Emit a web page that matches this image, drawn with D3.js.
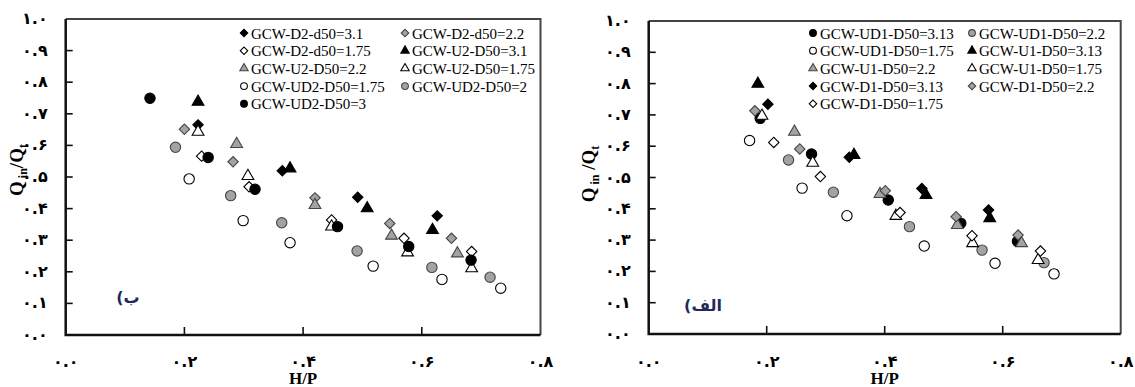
<!DOCTYPE html>
<html><head><meta charset="utf-8">
<script src="https://cdn.jsdelivr.net/npm/d3@7"></script>
<style>body{margin:0;background:#fff}</style>
</head><body><svg id="c" width="1135" height="387"></svg>
<script>
// ---------- tick labels ----------
const xTicks = [0, 0.2, 0.4, 0.6, 0.8];
const xTickLabels = ["۰.۰", "۰.۲", "۰.۴", "۰.۶", "۰.۸"];
const yTicks = [0, 0.1, 0.2, 0.3, 0.4, 0.5, 0.6, 0.7, 0.8, 0.9, 1.0];
const yTickLabels = ["۰.۰", "۰.۱", "۰.۲", "۰.۳", "۰.۴", "۰.۵", "۰.۶", "۰.۷", "۰.۸", "۰.۹", "۱.۰"];

// ---------- panel (ب) : left ----------
const leftNames = ["GCW-D2-d50=3.1", "GCW-D2-d50=2.2", "GCW-D2-d50=1.75", "GCW-U2-D50=3.1", "GCW-U2-D50=2.2", "GCW-U2-D50=1.75", "GCW-UD2-D50=1.75", "GCW-UD2-D50=2", "GCW-UD2-D50=3"];
const b_D2_31  = [[0.223,0.665],[0.365,0.520],[0.492,0.436],[0.626,0.377]];
const b_D2_22  = [[0.200,0.651],[0.282,0.548],[0.420,0.434],[0.546,0.353],[0.650,0.306]];
const b_D2_175 = [[0.229,0.566],[0.309,0.469],[0.448,0.364],[0.570,0.306],[0.684,0.264]];
const b_U2_31  = [[0.223,0.738],[0.378,0.527],[0.508,0.401],[0.618,0.332]];
const b_U2_22  = [[0.288,0.604],[0.420,0.411],[0.549,0.314],[0.660,0.258]];
const b_U2_175 = [[0.223,0.643],[0.307,0.503],[0.448,0.343],[0.576,0.261],[0.684,0.211]];
const b_UD2_175= [[0.208,0.494],[0.299,0.362],[0.378,0.292],[0.518,0.218],[0.634,0.176],[0.733,0.148]];
const b_UD2_2  = [[0.185,0.594],[0.278,0.441],[0.364,0.355],[0.491,0.266],[0.617,0.214],[0.715,0.183]];
const b_UD2_3  = [[0.142,0.749],[0.240,0.562],[0.319,0.461],[0.458,0.343],[0.578,0.280],[0.683,0.237]];

// ---------- panel (الف) : right ----------
const rightNames = ["GCW-UD1-D50=3.13", "GCW-UD1-D50=2.2", "GCW-UD1-D50=1.75", "GCW-U1-D50=3.13", "GCW-U1-D50=2.2", "GCW-U1-D50=1.75", "GCW-D1-D50=3.13", "GCW-D1-D50=2.2", "GCW-D1-D50=1.75"];
const a_UD1_313= [[0.189,0.689],[0.276,0.575],[0.406,0.428],[0.529,0.354],[0.625,0.296]];
const a_UD1_22 = [[0.237,0.556],[0.313,0.453],[0.442,0.343],[0.565,0.268],[0.670,0.228]];
const a_UD1_175= [[0.171,0.618],[0.260,0.466],[0.336,0.378],[0.467,0.281],[0.587,0.226],[0.687,0.192]];
const a_U1_313 = [[0.185,0.799],[0.348,0.572],[0.470,0.444],[0.578,0.370]];
const a_U1_22  = [[0.247,0.646],[0.392,0.447],[0.523,0.348],[0.632,0.290]];
const a_U1_175 = [[0.192,0.697],[0.278,0.547],[0.419,0.377],[0.549,0.290],[0.660,0.236]];
const a_D1_313 = [[0.202,0.734],[0.340,0.565],[0.463,0.465],[0.576,0.396]];
const a_D1_22  = [[0.180,0.713],[0.256,0.591],[0.401,0.458],[0.521,0.375],[0.626,0.316]];
const a_D1_175 = [[0.212,0.612],[0.291,0.503],[0.426,0.388],[0.548,0.314],[0.664,0.265]];

// marker styles: shape, fill
const BLACK = "#000", GRAY = "#a3a3a3", WHITE = "#fff";
const leftStyles = [["d",BLACK],["d",GRAY],["d",WHITE],["t",BLACK],["t",GRAY],["t",WHITE],["c",WHITE],["c",GRAY],["c",BLACK]];
const rightStyles = [["c",BLACK],["c",GRAY],["c",WHITE],["t",BLACK],["t",GRAY],["t",WHITE],["d",BLACK],["d",GRAY],["d",WHITE]];

const svg = d3.select("#c");
const serif = "'Liberation Serif','Times New Roman',serif";
const arab = "'DejaVu Sans',sans-serif";

function symPath(shape, big) {
  if (shape === "c") return d3.symbol(d3.symbolCircle, big ? 84 : 36)();
  if (shape === "t") return d3.symbol(d3.symbolTriangle, big ? 60 : 30)();
  return d3.symbol(d3.symbolSquare, big ? 54 : 28)();
}
function drawMarker(g, shape, fill, x, y, big) {
  g.append("path").attr("d", symPath(shape, big))
    .attr("transform", `translate(${x},${y})` + (shape === "d" ? " rotate(45)" : ""))
    .attr("fill", fill).attr("stroke", fill === GRAY ? "#444" : "#000").attr("stroke-width", 1.1);
}

function panel(cfg) {
  const x = d3.scaleLinear().domain([0, 0.8]).range([cfg.x0, cfg.x1]);
  const y = d3.scaleLinear().domain([0, 1]).range([cfg.y0, cfg.y1]);
  const g = svg.append("g");
  const X0 = x(0), X1 = x(0.8), Y0 = y(0), Y1 = y(1);
  // frame (top/right)
  g.append("path").attr("d", `M${X0},${Y1}H${X1}V${Y0}`)
    .attr("fill", "none").attr("stroke", "#444").attr("stroke-width", 2);
  // inner ticks
  yTicks.slice(1, -1).forEach(v => {
    g.append("line").attr("x1", X0).attr("x2", X0 + 7).attr("y1", y(v)).attr("y2", y(v))
      .attr("stroke", "#111").attr("stroke-width", 1.6);
  });
  xTicks.slice(1, -1).forEach(v => {
    g.append("line").attr("x1", x(v)).attr("x2", x(v)).attr("y1", Y0).attr("y2", Y0 - 8)
      .attr("stroke", "#111").attr("stroke-width", 1.6);
  });
  // axis lines
  g.append("path").attr("d", `M${X0},${Y1}V${Y0}H${X1}`)
    .attr("fill", "none").attr("stroke", "#111").attr("stroke-width", 2.5);
  // tick labels
  yTicks.forEach((v, i) => {
    g.append("text").attr("x", X0 - 18).attr("y", y(v) + 5).attr("text-anchor", "end")
      .attr("font-family", arab).attr("font-size", 16).attr("font-weight", "bold").attr("fill", "#000").text(yTickLabels[i]);
  });
  xTicks.forEach((v, i) => {
    g.append("text").attr("x", x(v)).attr("y", 367).attr("text-anchor", "middle")
      .attr("font-family", arab).attr("font-size", 16).attr("font-weight", "bold").attr("fill", "#000").text(xTickLabels[i]);
  });
  // axis titles
  g.append("text").attr("x", x(0.4)).attr("y", 384).attr("text-anchor", "middle")
    .attr("font-family", serif).attr("font-weight", "bold").attr("font-size", 17).text("H/P");
  const yt = g.append("text").attr("transform", `translate(${cfg.titleX},${cfg.titleY}) rotate(-90)`).attr("text-anchor", "middle")
    .attr("font-family", serif).attr("font-weight", "bold").attr("font-size", 19);
  yt.append("tspan").text("Q");
  yt.append("tspan").attr("font-size", 12).attr("dy", 4).text(" in");
  yt.append("tspan").attr("dy", -4).text(cfg.gap + "/Q");
  yt.append("tspan").attr("font-size", 12).attr("dy", 4).text("t");
  // panel label
  g.append("text").attr("x", cfg.labX).attr("y", cfg.labY).attr("text-anchor", "middle").attr("direction", "rtl")
    .attr("font-family", arab).attr("font-weight", "bold").attr("font-size", 16).attr("fill", "#1f2a5a").text(cfg.label);
  // points
  cfg.series.forEach((data, si) => {
    const [shape, fill] = cfg.styles[si];
    data.forEach(d => drawMarker(g, shape, fill, x(d[0]), y(d[1]), true));
  });
  // legend
  cfg.names.forEach((nm, i) => {
    const col = i % 2, row = Math.floor(i / 2);
    const mx = cfg.legX[col], my = 33 + row * 17.7;
    const [shape, fill] = cfg.styles[i];
    drawMarker(g, shape, fill, mx, my, false);
    g.append("text").attr("x", mx + 7).attr("y", my + 5.5).attr("font-family", serif).attr("font-size", 15)
      .attr("fill", "#000").text(nm);
  });
}

panel({x0: 65.7, x1: 540.5, y0: 335, y1: 19, titleX: 23, titleY: 170, gap: "", label: "ب)", labX: 128, labY: 303,
  series: [b_D2_31, b_D2_22, b_D2_175, b_U2_31, b_U2_22, b_U2_175, b_UD2_175, b_UD2_2, b_UD2_3],
  styles: leftStyles, names: leftNames, legX: [244, 405]});
panel({x0: 648.7, x1: 1120.7, y0: 334, y1: 21, titleX: 595, titleY: 174, gap: " ", label: "الف)", labX: 703, labY: 311,
  series: [a_UD1_313, a_UD1_22, a_UD1_175, a_U1_313, a_U1_22, a_U1_175, a_D1_313, a_D1_22, a_D1_175],
  styles: rightStyles, names: rightNames, legX: [813, 972]});
</script></body></html>
